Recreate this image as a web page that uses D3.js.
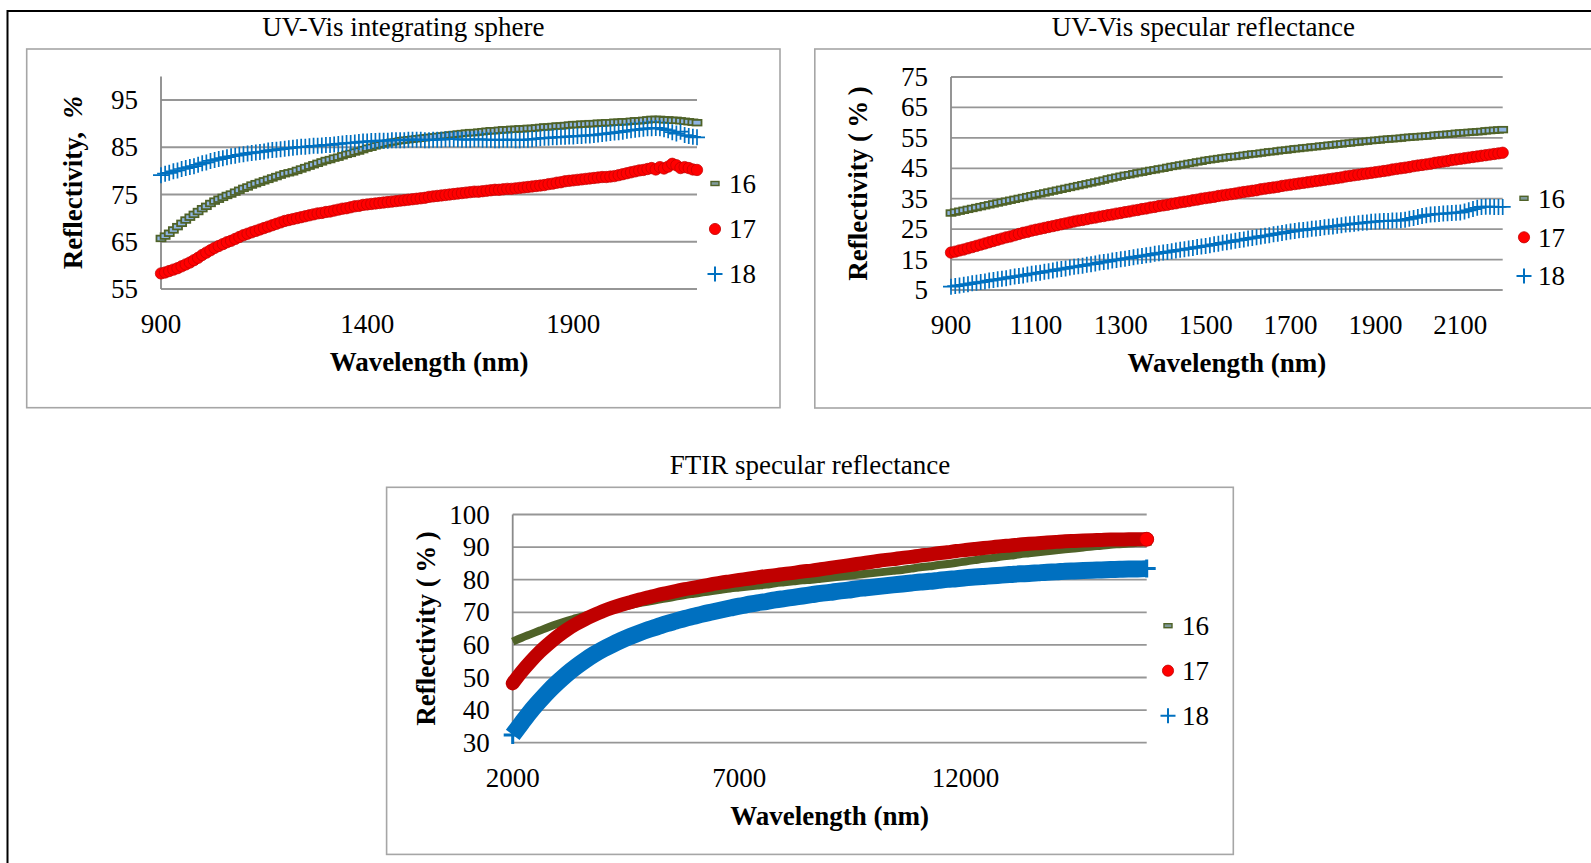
<!DOCTYPE html>
<html><head><meta charset="utf-8">
<script src="https://cdn.jsdelivr.net/npm/d3@7"></script>
<style>
html,body{margin:0;padding:0;background:#fff;overflow:hidden}
svg{display:block;font-family:"Liberation Serif","Times New Roman",serif}
</style></head><body>
<svg id="c" width="1591" height="863"></svg>
<script>
// ---------- DATA ----------
const seriesNames = ["16", "17", "18"];

// Panel 1: UV-Vis integrating sphere (wavelength 900..2200 nm, 10 nm step)
const wl1 = d3.range(900, 2201, 10);
const p1_s16 = [65.7,66.2,66.8,67.5,68.2,68.9,69.6,70.2,70.8,71.4,72.0,72.5,73.1,73.6,74.0,74.4,74.8,75.1,75.5,75.9,76.3,76.6,77.0,77.3,77.6,77.9,78.2,78.5,78.8,79.1,79.4,79.6,79.8,80.1,80.4,80.7,81.0,81.3,81.6,81.9,82.2,82.4,82.7,82.9,83.2,83.5,83.7,84.0,84.2,84.5,84.8,85.0,85.3,85.5,85.7,85.9,86.1,86.2,86.4,86.5,86.6,86.7,86.8,86.9,87.0,87.1,87.2,87.3,87.4,87.5,87.6,87.7,87.8,87.9,88.0,88.1,88.1,88.2,88.3,88.4,88.5,88.5,88.6,88.7,88.7,88.8,88.8,88.9,88.9,89.0,89.0,89.1,89.2,89.3,89.3,89.4,89.5,89.5,89.6,89.7,89.8,89.8,89.9,89.9,90.0,90.0,90.1,90.1,90.2,90.2,90.3,90.3,90.4,90.4,90.5,90.6,90.6,90.7,90.8,90.9,90.9,90.9,90.8,90.8,90.7,90.7,90.6,90.5,90.4,90.3,90.2];
const p1_s17 = [58.3,58.5,58.8,59.1,59.4,59.8,60.2,60.6,61.1,61.6,62.2,62.7,63.2,63.7,64.1,64.5,64.9,65.2,65.6,66.0,66.4,66.7,67.0,67.3,67.6,67.9,68.2,68.5,68.8,69.1,69.4,69.6,69.8,70.0,70.2,70.4,70.6,70.8,71.0,71.1,71.3,71.4,71.6,71.8,72.0,72.1,72.3,72.5,72.6,72.8,72.9,73.0,73.1,73.2,73.3,73.4,73.5,73.6,73.7,73.8,73.9,74.0,74.1,74.2,74.3,74.5,74.6,74.7,74.8,74.9,75.0,75.1,75.2,75.3,75.4,75.5,75.6,75.6,75.7,75.8,75.9,76.0,76.0,76.1,76.2,76.2,76.3,76.4,76.5,76.6,76.7,76.8,76.9,77.0,77.2,77.3,77.5,77.6,77.8,77.9,78.0,78.1,78.2,78.3,78.4,78.5,78.6,78.7,78.7,78.8,78.9,79.1,79.3,79.5,79.7,79.9,80.1,80.2,80.4,80.6,80.3,80.8,80.5,80.9,81.5,81.2,80.6,80.8,80.6,80.3,80.2];
const p1_s18 = [79.1,79.4,79.6,79.9,80.1,80.4,80.6,80.8,81.0,81.3,81.6,81.8,82.1,82.3,82.5,82.7,82.9,83.1,83.2,83.4,83.5,83.7,83.8,83.9,84.0,84.1,84.3,84.4,84.5,84.6,84.7,84.8,84.9,85.0,85.1,85.1,85.2,85.3,85.3,85.4,85.5,85.5,85.6,85.7,85.8,85.9,85.9,86.0,86.1,86.2,86.2,86.3,86.3,86.4,86.4,86.4,86.5,86.5,86.5,86.5,86.6,86.6,86.6,86.6,86.5,86.5,86.6,86.6,86.6,86.7,86.7,86.7,86.7,86.6,86.6,86.6,86.7,86.7,86.6,86.6,86.6,86.5,86.5,86.6,86.6,86.6,86.5,86.5,86.6,86.6,86.7,86.8,86.9,87.0,87.0,87.1,87.1,87.2,87.2,87.3,87.3,87.4,87.4,87.5,87.5,87.6,87.7,87.8,87.9,88.0,88.1,88.2,88.3,88.5,88.6,88.7,88.8,88.9,89.0,89.0,89.1,89.0,88.8,88.6,88.2,87.9,88.3,87.6,87.4,87.2,87.1];

// Panel 2: UV-Vis specular reflectance (900..2200 nm, 10 nm step)
const wl2 = d3.range(900, 2201, 10);
const p2_s16 = [30.3,30.6,30.9,31.2,31.5,31.8,32.1,32.4,32.7,33.0,33.3,33.6,33.9,34.2,34.5,34.8,35.1,35.4,35.7,36.0,36.3,36.6,36.9,37.2,37.5,37.8,38.1,38.4,38.7,39.0,39.3,39.6,39.9,40.2,40.5,40.8,41.1,41.5,41.8,42.1,42.4,42.7,42.9,43.2,43.5,43.7,44.0,44.3,44.5,44.8,45.0,45.3,45.6,45.8,46.1,46.3,46.6,46.8,47.1,47.3,47.6,47.8,48.0,48.2,48.4,48.6,48.8,48.9,49.1,49.3,49.5,49.7,49.8,50.0,50.2,50.4,50.5,50.7,50.9,51.0,51.2,51.4,51.5,51.7,51.8,52.0,52.1,52.3,52.4,52.6,52.7,52.9,53.0,53.2,53.3,53.5,53.6,53.8,53.9,54.1,54.2,54.3,54.5,54.6,54.7,54.8,54.9,55.1,55.2,55.3,55.4,55.5,55.6,55.7,55.9,56.0,56.1,56.2,56.3,56.5,56.6,56.7,56.8,56.9,57.0,57.1,57.3,57.4,57.5,57.6,57.7];
const p2_s17 = [17.3,17.6,18.0,18.3,18.7,19.1,19.5,19.9,20.3,20.7,21.1,21.5,21.9,22.3,22.6,23.0,23.4,23.8,24.1,24.5,24.8,25.1,25.4,25.7,26.0,26.3,26.6,26.9,27.2,27.5,27.8,28.0,28.3,28.6,28.8,29.1,29.3,29.6,29.8,30.1,30.3,30.6,30.8,31.1,31.3,31.6,31.8,32.1,32.3,32.6,32.8,33.0,33.3,33.5,33.8,34.0,34.2,34.5,34.7,35.0,35.2,35.4,35.6,35.9,36.1,36.3,36.5,36.7,37.0,37.2,37.4,37.6,37.8,38.1,38.3,38.5,38.7,38.9,39.2,39.4,39.6,39.8,40.0,40.2,40.4,40.6,40.8,41.0,41.2,41.4,41.6,41.8,42.0,42.3,42.5,42.7,42.9,43.1,43.3,43.5,43.7,43.9,44.1,44.3,44.6,44.8,45.0,45.2,45.4,45.7,45.9,46.1,46.3,46.5,46.8,47.0,47.2,47.4,47.7,47.9,48.1,48.3,48.5,48.7,48.9,49.1,49.3,49.5,49.7,49.9,50.1];
const p2_s18 = [6.1,6.3,6.5,6.7,6.9,7.2,7.4,7.6,7.8,8.1,8.3,8.5,8.7,8.9,9.2,9.4,9.6,9.8,10.1,10.3,10.5,10.7,11.0,11.2,11.4,11.7,11.9,12.1,12.4,12.6,12.8,13.0,13.3,13.5,13.7,14.0,14.2,14.4,14.7,14.9,15.1,15.3,15.5,15.8,16.0,16.2,16.4,16.6,16.9,17.1,17.3,17.5,17.7,18.0,18.2,18.4,18.6,18.8,19.1,19.3,19.5,19.7,20.0,20.2,20.5,20.7,20.9,21.2,21.4,21.6,21.9,22.1,22.3,22.6,22.8,23.0,23.3,23.5,23.7,24.0,24.2,24.4,24.6,24.7,24.9,25.1,25.2,25.4,25.6,25.8,25.9,26.1,26.3,26.5,26.6,26.8,26.9,27.1,27.2,27.4,27.5,27.6,27.7,27.7,27.8,27.8,27.9,28.1,28.4,28.7,29.0,29.3,29.6,29.8,29.9,30.0,30.1,30.2,30.3,30.4,30.5,30.8,31.2,31.6,32.0,32.3,32.4,32.4,32.3,32.3,32.3];

// Panel 3: FTIR specular reflectance (2000..16000 nm, 200 nm step)
const wl3 = d3.range(2000, 16001, 200);
const p3_s16 = [61.0,62.2,63.3,64.4,65.5,66.5,67.4,68.2,69.0,69.7,70.4,71.0,71.6,72.2,72.8,73.3,73.8,74.3,74.8,75.3,75.7,76.1,76.5,76.9,77.3,77.6,77.9,78.2,78.5,78.9,79.2,79.5,79.8,80.0,80.3,80.6,80.9,81.2,81.5,81.8,82.1,82.4,82.7,83.0,83.4,83.8,84.1,84.5,84.8,85.2,85.6,86.0,86.4,86.7,87.1,87.4,87.8,88.1,88.4,88.7,89.0,89.3,89.6,89.9,90.2,90.4,90.7,90.9,91.1,91.3,91.5];
const p3_s17 = [48.2,51.8,55.0,57.9,60.4,62.7,64.7,66.4,67.9,69.2,70.4,71.4,72.3,73.1,73.9,74.6,75.3,75.9,76.5,77.1,77.6,78.1,78.6,79.1,79.5,79.9,80.3,80.7,81.1,81.4,81.8,82.1,82.5,82.8,83.2,83.6,84.0,84.4,84.8,85.2,85.6,86.0,86.3,86.7,87.0,87.4,87.7,88.1,88.4,88.8,89.1,89.4,89.7,90.0,90.3,90.5,90.8,91.0,91.2,91.4,91.6,91.8,91.9,92.0,92.1,92.2,92.3,92.3,92.4,92.4,92.4];
const p3_s18 = [32.4,36.1,39.7,42.9,45.9,48.6,51.1,53.3,55.3,57.1,58.7,60.1,61.4,62.6,63.7,64.7,65.6,66.5,67.3,68.1,68.8,69.5,70.1,70.7,71.3,71.9,72.4,72.9,73.3,73.8,74.2,74.6,75.0,75.4,75.8,76.1,76.5,76.8,77.2,77.5,77.8,78.1,78.4,78.7,79.0,79.3,79.5,79.8,80.1,80.3,80.6,80.8,81.0,81.2,81.4,81.6,81.8,81.9,82.1,82.3,82.4,82.6,82.7,82.8,82.9,83.0,83.1,83.2,83.3,83.3,83.4];

// Axis ticks
const p1_xTicks = [900, 1400, 1900];
const p1_yTicks = [55, 65, 75, 85, 95];
const p2_xTicks = [900, 1100, 1300, 1500, 1700, 1900, 2100];
const p2_yTicks = [5, 15, 25, 35, 45, 55, 65, 75];
const p3_xTicks = [2000, 7000, 12000];
const p3_yTicks = [30, 40, 50, 60, 70, 80, 90, 100];

const titles = ["UV-Vis integrating sphere", "UV-Vis specular reflectance", "FTIR specular reflectance"];
const xTitle = "Wavelength (nm)";

// ---------- STYLE / LAYOUT ----------
const C = {green: "#4F6228", greenFill: "#8EB4E3", red: "#FF0000", redDark: "#C00000", blue: "#0070C0",
  grid: "#969696", axis: "#8a8a8a", box: "#a6a6a6"};
const FS = 27;

const svg = d3.select("#c");

// outer frame
svg.append("rect").attr("x", 7.5).attr("y", 11).attr("width", 1700).attr("height", 1000)
  .attr("fill", "none").attr("stroke", "#000").attr("stroke-width", 2);

const panels = [
  {title: titles[0], box: [26.7, 49, 780, 407.7], titleY: 35.5,
   xr: [161, 697], yr: [289, 76.4], xd: [900, 2200], yd: [55, 100],
   xt: p1_xTicks, yt: p1_yTicks, ytitleX: 82, ytitle: "p1",
   legX: 729, legY: [183.5, 229, 274], legBase: [193.3, 238.3, 283.3],
   mode: "markers", wl: wl1, series: [p1_s16, p1_s17, p1_s18]},
  {title: titles[1], box: [814.8, 49, 1600, 408], titleY: 35.5,
   xr: [951, 1502.7], yr: [290, 77], xd: [900, 2200], yd: [5, 75],
   xt: p2_xTicks, yt: p2_yTicks, ytitleX: 867, ytitle: "p2",
   legX: 1538, legY: [198.3, 237.3, 276], legBase: [208.3, 247.3, 285],
   mode: "markers", wl: wl2, series: [p2_s16, p2_s17, p2_s18]},
  {title: titles[2], box: [386.6, 487.3, 1233.3, 854.4], titleY: 474,
   xr: [512.7, 1146.7], yr: [742.7, 514.5], xd: [2000, 16000], yd: [30, 100],
   xt: p3_xTicks, yt: p3_yTicks, ytitleX: 435, ytitle: "p3",
   legX: 1182, legY: [625.7, 670.7, 715.7], legBase: [635, 680, 725],
   mode: "bands", wl: wl3, series: [p3_s16, p3_s17, p3_s18]}
];

function plusPath(cx, cy, h) {
  return `M${cx - h},${cy}H${cx + h}M${cx},${cy - h}V${cy + h}`;
}

function drawMarker(g, type, cx, cy) {
  if (type === 0) {
    g.append("rect").attr("x", cx - 4).attr("y", cy - 2)
      .attr("width", 8).attr("height", 4)
      .attr("fill", "#7f9a9a").attr("stroke", C.green).attr("stroke-width", 1.4);
  } else if (type === 1) {
    g.append("circle").attr("cx", cx).attr("cy", cy).attr("r", 5.6)
      .attr("fill", C.red).attr("stroke", C.redDark).attr("stroke-width", 0.8);
  } else {
    g.append("path").attr("d", plusPath(cx, cy, 7.5))
      .attr("stroke", C.blue).attr("stroke-width", 2).attr("fill", "none");
  }
}

panels.forEach((p, pi) => {
  const g = svg.append("g");
  // box
  g.append("rect").attr("x", p.box[0]).attr("y", p.box[1])
    .attr("width", p.box[2] - p.box[0]).attr("height", p.box[3] - p.box[1])
    .attr("fill", "#fff").attr("stroke", C.box).attr("stroke-width", 1.6);
  // title
  g.append("text").attr("x", (p.box[0] + Math.min(p.box[2], 1592)) / 2).attr("y", p.titleY)
    .attr("text-anchor", "middle").attr("font-size", FS).text(p.title);

  const x = d3.scaleLinear().domain(p.xd).range(p.xr);
  const y = d3.scaleLinear().domain(p.yd).range(p.yr);

  // gridlines
  g.append("g").selectAll("line").data(p.yt).join("line")
    .attr("x1", p.xr[0]).attr("x2", p.xr[1])
    .attr("y1", d => y(d)).attr("y2", d => y(d))
    .attr("stroke", C.grid).attr("stroke-width", 1.8);
  // y axis line
  g.append("line").attr("x1", p.xr[0]).attr("x2", p.xr[0])
    .attr("y1", y(p.yd[0])).attr("y2", y(p.yd[1]))
    .attr("stroke", C.axis).attr("stroke-width", 1.8);

  // y tick labels
  g.append("g").selectAll("text").data(p.yt).join("text")
    .attr("x", p.xr[0] - 23).attr("y", d => y(d) + 9)
    .attr("text-anchor", "end").attr("font-size", FS).text(d => d);
  // x tick labels
  g.append("g").selectAll("text").data(p.xt).join("text")
    .attr("x", d => x(d)).attr("y", p.yr[0] + 44)
    .attr("text-anchor", "middle").attr("font-size", FS).text(d => d);

  // x title
  g.append("text").attr("x", (p.xr[0] + p.xr[1]) / 2).attr("y", p.yr[0] + 82)
    .attr("text-anchor", "middle").attr("font-size", FS).attr("font-weight", "bold").text(xTitle);
  // y title
  const yt = g.append("text")
    .attr("transform", `translate(${p.ytitleX},${(p.yr[0] + p.yr[1]) / 2}) rotate(-90)`)
    .attr("text-anchor", "middle").attr("font-size", FS).attr("font-weight", "bold");
  if (p.ytitle === "p1") {
    yt.append("tspan").text("Reflectivity,\u00a0\u00a0");
    yt.append("tspan").attr("font-style", "italic").text("%");
  } else {
    yt.append("tspan").text("Reflectivity\u00a0(\u2009%\u2009)");
  }

  // series
  const sg = g.append("g");
  p.series.forEach((vals, si) => {
    const pts = vals.map((v, i) => [p.wl[i], v]);
    const s = sg.append("g");
    if (p.mode === "markers") {
      if (si === 0) {
        s.selectAll("rect").data(pts).join("rect")
          .attr("x", d => x(d[0]) - 4.5).attr("y", d => y(d[1]) - 2.8)
          .attr("width", 9).attr("height", 5.6)
          .attr("fill", C.greenFill).attr("stroke", C.green).attr("stroke-width", 1.8);
      } else if (si === 1) {
        s.selectAll("circle").data(pts).join("circle")
          .attr("cx", d => x(d[0])).attr("cy", d => y(d[1])).attr("r", 5.7)
          .attr("fill", C.red).attr("stroke", C.redDark).attr("stroke-width", 0.7);
      } else {
        s.selectAll("path").data(pts).join("path")
          .attr("d", d => plusPath(x(d[0]), y(d[1]), 8))
          .attr("stroke", C.blue).attr("stroke-width", 1.7).attr("fill", "none");
      }
    } else {
      const line = d3.line().x(d => x(d[0])).y(d => y(d[1])).curve(d3.curveMonotoneX);
      const widths = [8, 14, 17];
      const cols = [C.green, C.redDark, C.blue];
      s.append("path").attr("d", line(pts)).attr("fill", "none")
        .attr("stroke", cols[si]).attr("stroke-width", widths[si])
        .attr("stroke-linecap", si === 1 ? "round" : "butt");
      const last = pts[pts.length - 1], first = pts[0];
      if (si === 1) {
        s.append("circle").attr("cx", x(last[0])).attr("cy", y(last[1])).attr("r", 7)
          .attr("fill", C.red).attr("stroke", C.redDark).attr("stroke-width", 0.8);
      } else if (si === 2) {
        [first, last].forEach(d => s.append("path").attr("d", plusPath(x(d[0]), y(d[1]), 9))
          .attr("stroke", C.blue).attr("stroke-width", 3).attr("fill", "none"));
      } else {
        s.append("rect").attr("x", x(last[0]) - 5).attr("y", y(last[1]) - 3.5)
          .attr("width", 10).attr("height", 7).attr("fill", C.green);
      }
    }
  });

  // legend
  const lg = g.append("g");
  seriesNames.forEach((n, si) => {
    drawMarker(lg, si, p.legX - 14, p.legY[si]);
    lg.append("text").attr("x", p.legX).attr("y", p.legBase[si])
      .attr("font-size", FS).text(n);
  });
});
</script>
</body></html>
